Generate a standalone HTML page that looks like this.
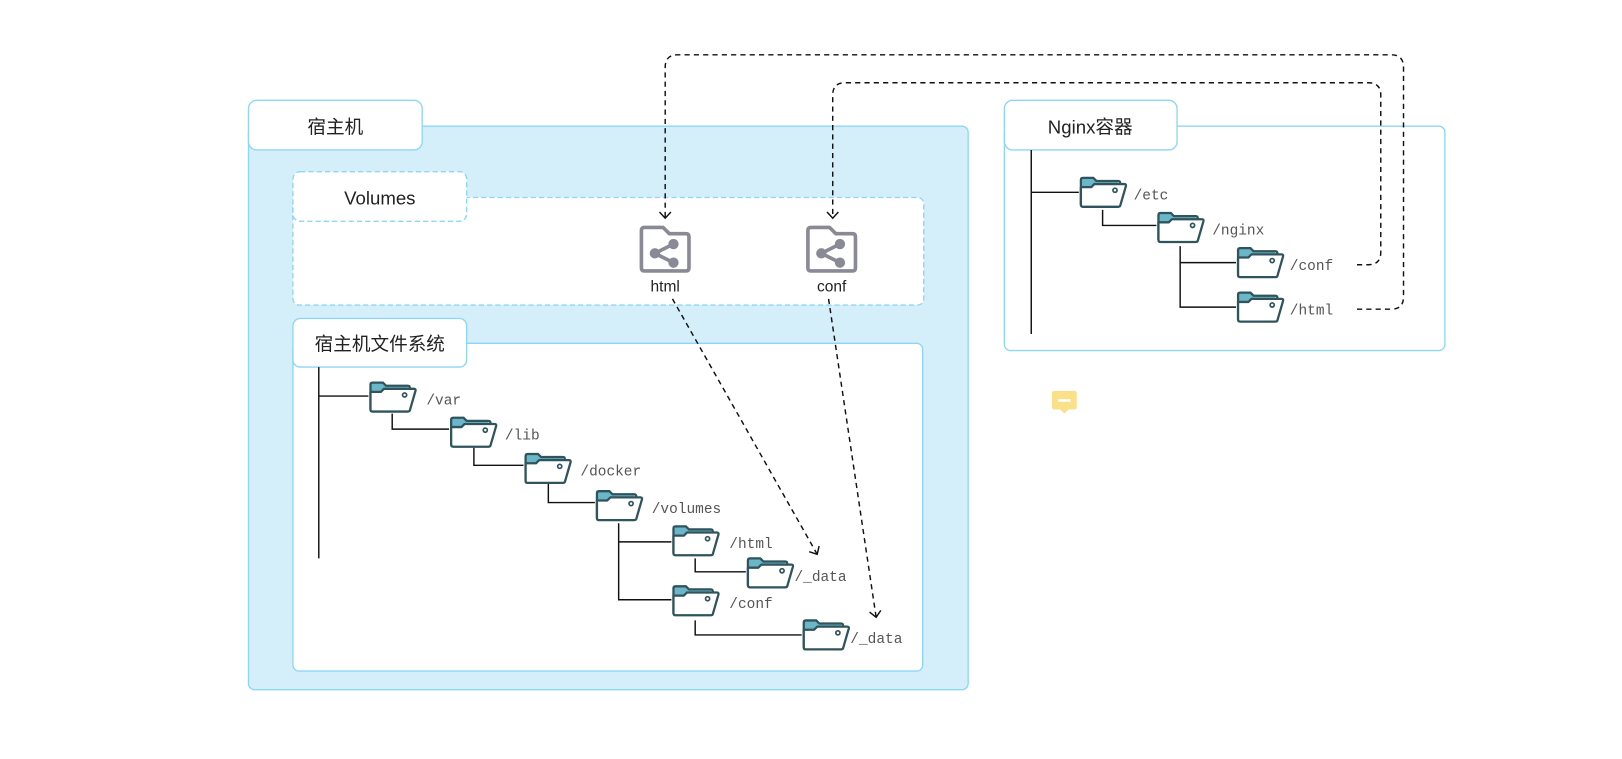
<!DOCTYPE html>
<html><head><meta charset="utf-8"><style>
html,body{margin:0;padding:0;background:#fff;}
svg{display:block;}
.t{font-family:"Liberation Sans","Noto Sans CJK SC",sans-serif;fill:#222;}
.m{font-family:"Liberation Mono",monospace;font-size:14px;fill:#555;}
</style></head><body>
<svg width="1622" height="759" viewBox="0 0 1568 734" xmlns="http://www.w3.org/2000/svg">
<defs>
<g id="fd">
<path d="M2,11 L2,4 Q2,2 4,2 L14,2 L17,5 L38,5 L38,9 L15,9 L12,11 Z" fill="#6bb7c9"/>
<path d="M2,28 L2,4 Q2,2 4,2 L14,2 L17,5 L38,5 Q40,5 40,7 L40,8" fill="none" stroke="#2f545c" stroke-width="2.2"/>
<path d="M2,11 L12,11 L15,8 L44,8 Q46,8 45.5,10 L40,29 Q39.5,30 38,30 L4,30 Q2,30 2,28 Z" fill="#fff" stroke="#2f545c" stroke-width="2.2" stroke-linejoin="round"/>
<circle cx="35" cy="14" r="2" fill="none" stroke="#2f545c" stroke-width="1.6"/>
</g>
<g id="sh">
<path d="M3,6 Q3,3 6,3 L24,3 L30,9 L46,9 Q49,9 49,12 L49,42 Q49,45 46,45 L6,45 Q3,45 3,42 Z" fill="#fff" stroke="#8a8a96" stroke-width="3.5" stroke-linejoin="round"/>
<line x1="16" y1="28" x2="34" y2="19" stroke="#8a8a96" stroke-width="3.5"/>
<line x1="16" y1="28" x2="34" y2="37" stroke="#8a8a96" stroke-width="3.5"/>
<circle cx="16" cy="28" r="5" fill="#8a8a96"/>
<circle cx="34" cy="19" r="5" fill="#8a8a96"/>
<circle cx="34" cy="37" r="5" fill="#8a8a96"/>
</g>
<marker id="ar" markerWidth="14" markerHeight="14" refX="11" refY="7" orient="auto" markerUnits="userSpaceOnUse">
<path d="M5,1.5 L11,7 L5,12.5" fill="none" stroke="#111" stroke-width="1.4" stroke-dasharray="none"/>
</marker>
</defs>

<!-- host -->
<rect x="240" y="122" width="696" height="545" rx="6" fill="#d4eefa" stroke="#8ed6f5" stroke-width="1.3"/>
<rect x="240" y="97" width="168" height="48" rx="8" fill="#fff" stroke="#8ed6f5" stroke-width="1.3"/>
<text class="t" x="324" y="129" font-size="18" text-anchor="middle">宿主机</text>

<!-- volumes -->
<rect x="283" y="191" width="610" height="104" rx="6" fill="#fff" stroke="#8ed6f5" stroke-width="1.3" stroke-dasharray="5,3"/>
<rect x="283" y="166" width="168" height="48" rx="7" fill="#fff" stroke="#8ed6f5" stroke-width="1.3" stroke-dasharray="5,3"/>
<rect x="284" y="190" width="166" height="3" fill="#fff"/>
<text class="t" x="367" y="198" font-size="18" text-anchor="middle">Volumes</text>

<!-- fs -->
<rect x="283" y="332" width="609" height="317" rx="6" fill="#fff" stroke="#8ed6f5" stroke-width="1.3"/>
<rect x="283" y="308" width="168" height="47" rx="7" fill="#fff" stroke="#8ed6f5" stroke-width="1.3"/>
<text class="t" x="367" y="339" font-size="18" text-anchor="middle">宿主机文件系统</text>

<!-- nginx -->
<rect x="971" y="122" width="426" height="217" rx="6" fill="#fff" stroke="#8ed6f5" stroke-width="1.3"/>
<rect x="971" y="97" width="167" height="48" rx="8" fill="#fff" stroke="#8ed6f5" stroke-width="1.3"/>
<text class="t" x="1054" y="129" font-size="18" text-anchor="middle">Nginx容器</text>

<!-- trees -->
<g stroke="#111" stroke-width="1.4" fill="none">
<path d="M308,355 L308,540 M308,383 L356,383"/>
<path d="M379,400 L379,415 L434,415"/>
<path d="M458,433 L458,450 L506,450"/>
<path d="M530,468 L530,486 L575,486"/>
<path d="M598,506 L598,580 L649,580 M598,524 L649,524"/>
<path d="M672,540 L672,553 L721,553"/>
<path d="M672,600 L672,614 L775,614"/>
<path d="M997,145 L997,323 M997,186 L1043,186"/>
<path d="M1066,203 L1066,218 L1118,218"/>
<path d="M1141,238 L1141,297 L1195,297 M1141,254 L1195,254"/>
</g>
<use href="#fd" x="356" y="368"/><text class="m" x="412" y="391">/var</text>
<use href="#fd" x="434" y="402"/><text class="m" x="488" y="425">/lib</text>
<use href="#fd" x="506" y="437"/><text class="m" x="561" y="460">/docker</text>
<use href="#fd" x="575" y="473"/><text class="m" x="630" y="496">/volumes</text>
<use href="#fd" x="649" y="507"/><text class="m" x="705" y="530">/html</text>
<use href="#fd" x="721" y="538"/><text class="m" x="768" y="562">/_data</text>
<use href="#fd" x="649" y="565"/><text class="m" x="705" y="588">/conf</text>
<use href="#fd" x="775" y="598"/><text class="m" x="822" y="622">/_data</text>

<use href="#fd" x="1043" y="170"/><text class="m" x="1096" y="193">/etc</text>
<use href="#fd" x="1118" y="204"/><text class="m" x="1172" y="227">/nginx</text>
<use href="#fd" x="1195" y="238"/><text class="m" x="1247" y="261">/conf</text>
<use href="#fd" x="1195" y="281"/><text class="m" x="1247" y="304">/html</text>

<!-- volume icons -->
<use href="#sh" x="617" y="217"/><text class="t" x="643" y="282" font-size="15" text-anchor="middle">html</text>
<use href="#sh" x="778" y="217"/><text class="t" x="804" y="282" font-size="15" text-anchor="middle">conf</text>

<!-- dashed connectors -->
<g stroke="#111" stroke-width="1.4" fill="none" stroke-dasharray="5,4">
<path d="M1312,299 L1345,299 Q1357,299 1357,287 L1357,65 Q1357,53 1345,53 L655,53 Q643,53 643,65 L643,211" marker-end="url(#ar)"/>
<path d="M1312,256 L1323,256 Q1335,256 1335,244 L1335,92 Q1335,80 1323,80 L817,80 Q805,80 805,92 L805,211" marker-end="url(#ar)"/>
<path d="M650,289 L790,536" marker-end="url(#ar)"/>
<path d="M801,289 L847,597" marker-end="url(#ar)"/>
</g>

<!-- note icon -->
<rect x="1015" y="376" width="28" height="24" rx="2" fill="#fff"/>
<rect x="1017" y="378" width="24" height="18" rx="2" fill="#fbe08a"/>
<path d="M1025,396 L1029,400 L1033,396 Z" fill="#fbe08a"/>
<rect x="1023" y="386" width="12" height="2.5" fill="#fff"/>
</svg>
</body></html>
